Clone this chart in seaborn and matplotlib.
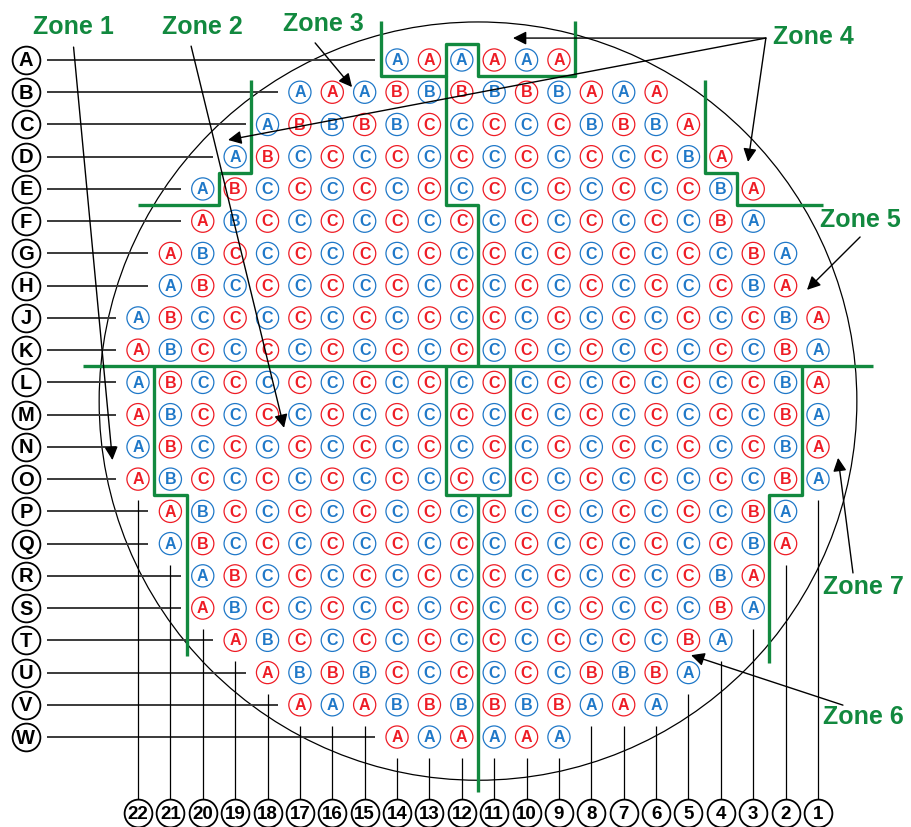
import pandas as pd
import seaborn as sns
import matplotlib.pyplot as plt
from matplotlib.patches import Ellipse

# wafer map: rows A..W (no I), columns 22..1, grade letter and colour of each die
row_names = ['A', 'B', 'C', 'D', 'E', 'F', 'G', 'H', 'J', 'K', 'L',
             'M', 'N', 'O', 'P', 'Q', 'R', 'S', 'T', 'U', 'V', 'W']
row_first_col = [14, 17, 18, 19, 20, 20, 21, 21, 22, 22, 22,
                 22, 22, 22, 21, 21, 20, 20, 19, 18, 17, 14]
row_grades = [
    "AAAAAA",
    "AAABBBBBBAAA",
    "ABBBBCCCCCBBBA",
    "ABCCCCCCCCCCCCBA",
    "ABCCCCCCCCCCCCCCBA",
    "ABCCCCCCCCCCCCCCBA",
    "ABCCCCCCCCCCCCCCCCBA",
    "ABCCCCCCCCCCCCCCCCBA",
    "ABCCCCCCCCCCCCCCCCCCBA",
    "ABCCCCCCCCCCCCCCCCCCBA",
    "ABCCCCCCCCCCCCCCCCCCBA",
    "ABCCCCCCCCCCCCCCCCCCBA",
    "ABCCCCCCCCCCCCCCCCCCBA",
    "ABCCCCCCCCCCCCCCCCCCBA",
    "ABCCCCCCCCCCCCCCCCBA",
    "ABCCCCCCCCCCCCCCCCBA",
    "ABCCCCCCCCCCCCCCBA",
    "ABCCCCCCCCCCCCCCBA",
    "ABCCCCCCCCCCCCBA",
    "ABBBCCCCCCBBBA",
    "AAABBBBBBAAA",
    "AAAAAA",
]
row_tones = [
    "brbrbr",
    "brbrbrbrbrbr",
    "brbrbrbrbrbrbr",
    "brbrbrbrbrbrbrbr",
    "brbrbrbrbrbrbrbrbr",
    "rbrbrbrbrbrbrbrbrb",
    "rbrbrbrbrbrbrbrbrbrb",
    "brbrbrbrbrbrbrbrbrbr",
    "brbrbrbrbrbrbrbrbrbrbr",
    "rbrbrbrbrbrbrbrbrbrbrb",
    "brbrbrbrbrbrbrbrbrbrbr",
    "rbrbrbrbrbrbrbrbrbrbrb",
    "brbrbrbrbrbrbrbrbrbrbr",
    "rbrbrbrbrbrbrbrbrbrbrb",
    "rbrbrbrbrbrbrbrbrbrb",
    "brbrbrbrbrbrbrbrbrbr",
    "brbrbrbrbrbrbrbrbr",
    "rbrbrbrbrbrbrbrbrb",
    "rbrbrbrbrbrbrbrb",
    "rbrbrbrbrbrbrb",
    "rbrbrbrbrbrb",
    "rbrbrb",
]
col_numbers = list(range(1, 23))

# zone boundaries (grid units: x = column, y = row index)
zone_paths = [
    [(14.5, -1.2), (14.5, 0.5), (12.5, 0.5), (12.5, -0.5), (11.5, -0.5),
     (11.5, 0.5), (8.5, 0.5), (8.5, -1.2)],
    [(12.5, 0.5), (12.5, 4.5), (11.5, 4.5), (11.5, 9.5)],
    [(18.5, 0.62), (18.5, 3.5), (19.5, 3.5), (19.5, 4.5), (22.0, 4.5)],
    [(4.5, 0.62), (4.5, 3.5), (3.5, 3.5), (3.5, 4.5), (0.85, 4.5)],
    [(23.7, 9.5), (-0.7, 9.5)],
    [(21.5, 9.5), (21.5, 13.5), (20.5, 13.5), (20.5, 18.5)],
    [(12.5, 9.5), (12.5, 13.5), (10.5, 13.5), (10.5, 9.5)],
    [(11.5, 13.5), (11.5, 22.7)],
    [(1.5, 9.5), (1.5, 13.5), (2.5, 13.5), (2.5, 18.7)],
]
zone_labels = [
    ("Zone 1", 23.98, -1.02, 'center'),
    ("Zone 2", 20.02, -1.02, 'center'),
    ("Zone 3", 16.26, -1.12, 'center'),
    ("Zone 4", 1.15, -0.71, 'center'),
    ("Zone 5", 0.94, 4.96, 'left'),
    ("Zone 7", 0.85, 16.35, 'left'),
    ("Zone 6", 0.85, 20.38, 'left'),
]
# (tail, tip)
zone_arrows = [
    ((23.99, -0.40), (22.79, 12.41)),
    ((20.36, -0.43), (17.49, 11.41)),
    ((16.53, -0.53), (15.39, 0.84)),
    ((2.61, -0.68), (10.42, -0.68)),
    ((2.61, -0.68), (19.22, 2.48)),
    ((2.61, -0.68), (3.16, 3.16)),
    ((-0.30, 5.49), (1.34, 7.13)),
    ((-0.08, 15.91), (0.38, 12.34)),
    ((0.23, 20.01), (4.92, 18.46)),
]

BLUE = '#1f78c8'
RED = '#ee1c25'
GREEN = '#12893f'

records = []
for i, (first, grades, tones) in enumerate(zip(row_first_col, row_grades, row_tones)):
    for j, (g, t) in enumerate(zip(grades, tones)):
        records.append({'row': i, 'col': first - j, 'grade': g, 'tone': t})
df = pd.DataFrame(records)

sns.set_theme(style='white')
plt.rcParams['font.family'] = ['Liberation Sans', 'DejaVu Sans']

fig = plt.figure(figsize=(9.11, 8.27), dpi=100)
ax = fig.add_axes([0, 0, 1, 1])
ax.set_xlim(26.262, -1.872)
ax.set_ylim(23.79, -1.861)
ax.axis('off')

# wafer outline
ax.add_patch(Ellipse((11.5, 10.58), 2 * 11.70, 2 * 11.76, fill=False,
                     edgecolor='black', linewidth=0.9, zorder=1))

# leader lines from row and column labels
for i, first in enumerate(row_first_col):
    ax.hlines(i, 24.81, first + 0.68, color='#3a3a3a', linewidth=1.4, zorder=1)
bottom = df.groupby('col')['row'].max()
for c in col_numbers:
    ax.vlines(c, bottom[c] + 0.65, 22.95, color='black', linewidth=0.9, zorder=1)

# dies
sns.scatterplot(data=df, x='col', y='row', hue='tone', palette={'b': BLUE, 'r': RED},
                s=255, linewidth=0.9, legend=False, ax=ax, zorder=3)
pts = ax.collections[-1]
pts.set_edgecolors(pts.get_facecolors())
pts.set_facecolors('white')
for _, d in df.iterrows():
    ax.text(d['col'], d['row'] + 0.02, d['grade'], color=BLUE if d['tone'] == 'b' else RED,
            ha='center', va='center', fontsize=11.5, fontweight='bold', zorder=4)

# row / column labels
ax.scatter([25.46] * len(row_names), range(len(row_names)), s=400, facecolor='white',
           edgecolor='black', linewidth=1.3, zorder=3)
for i, name in enumerate(row_names):
    ax.text(25.46, i + 0.03, name, ha='center', va='center', fontsize=14.5,
            fontweight='bold', color='black', zorder=4)
ax.scatter(col_numbers, [23.36] * len(col_numbers), s=400, facecolor='white',
           edgecolor='black', linewidth=1.3, zorder=3)
for c in col_numbers:
    ax.text(c, 23.40, str(c), ha='center', va='center', fontsize=13.5,
            fontweight='bold', color='black', zorder=4)

# zones
for path in zone_paths:
    xs, ys = zip(*path)
    ax.plot(xs, ys, color=GREEN, linewidth=2.4, solid_capstyle='butt', zorder=2)
for text, x, y, ha in zone_labels:
    ax.text(x, y, text, color=GREEN, fontsize=18, fontweight='bold',
            ha=ha, va='center', zorder=5)
for tail, tip in zone_arrows:
    ax.annotate('', xy=tip, xytext=tail,
                arrowprops=dict(arrowstyle='-|>', color='black', lw=1.0,
                                mutation_scale=20, shrinkA=0, shrinkB=0),
                zorder=5)

fig.savefig('out.png', dpi=100)
